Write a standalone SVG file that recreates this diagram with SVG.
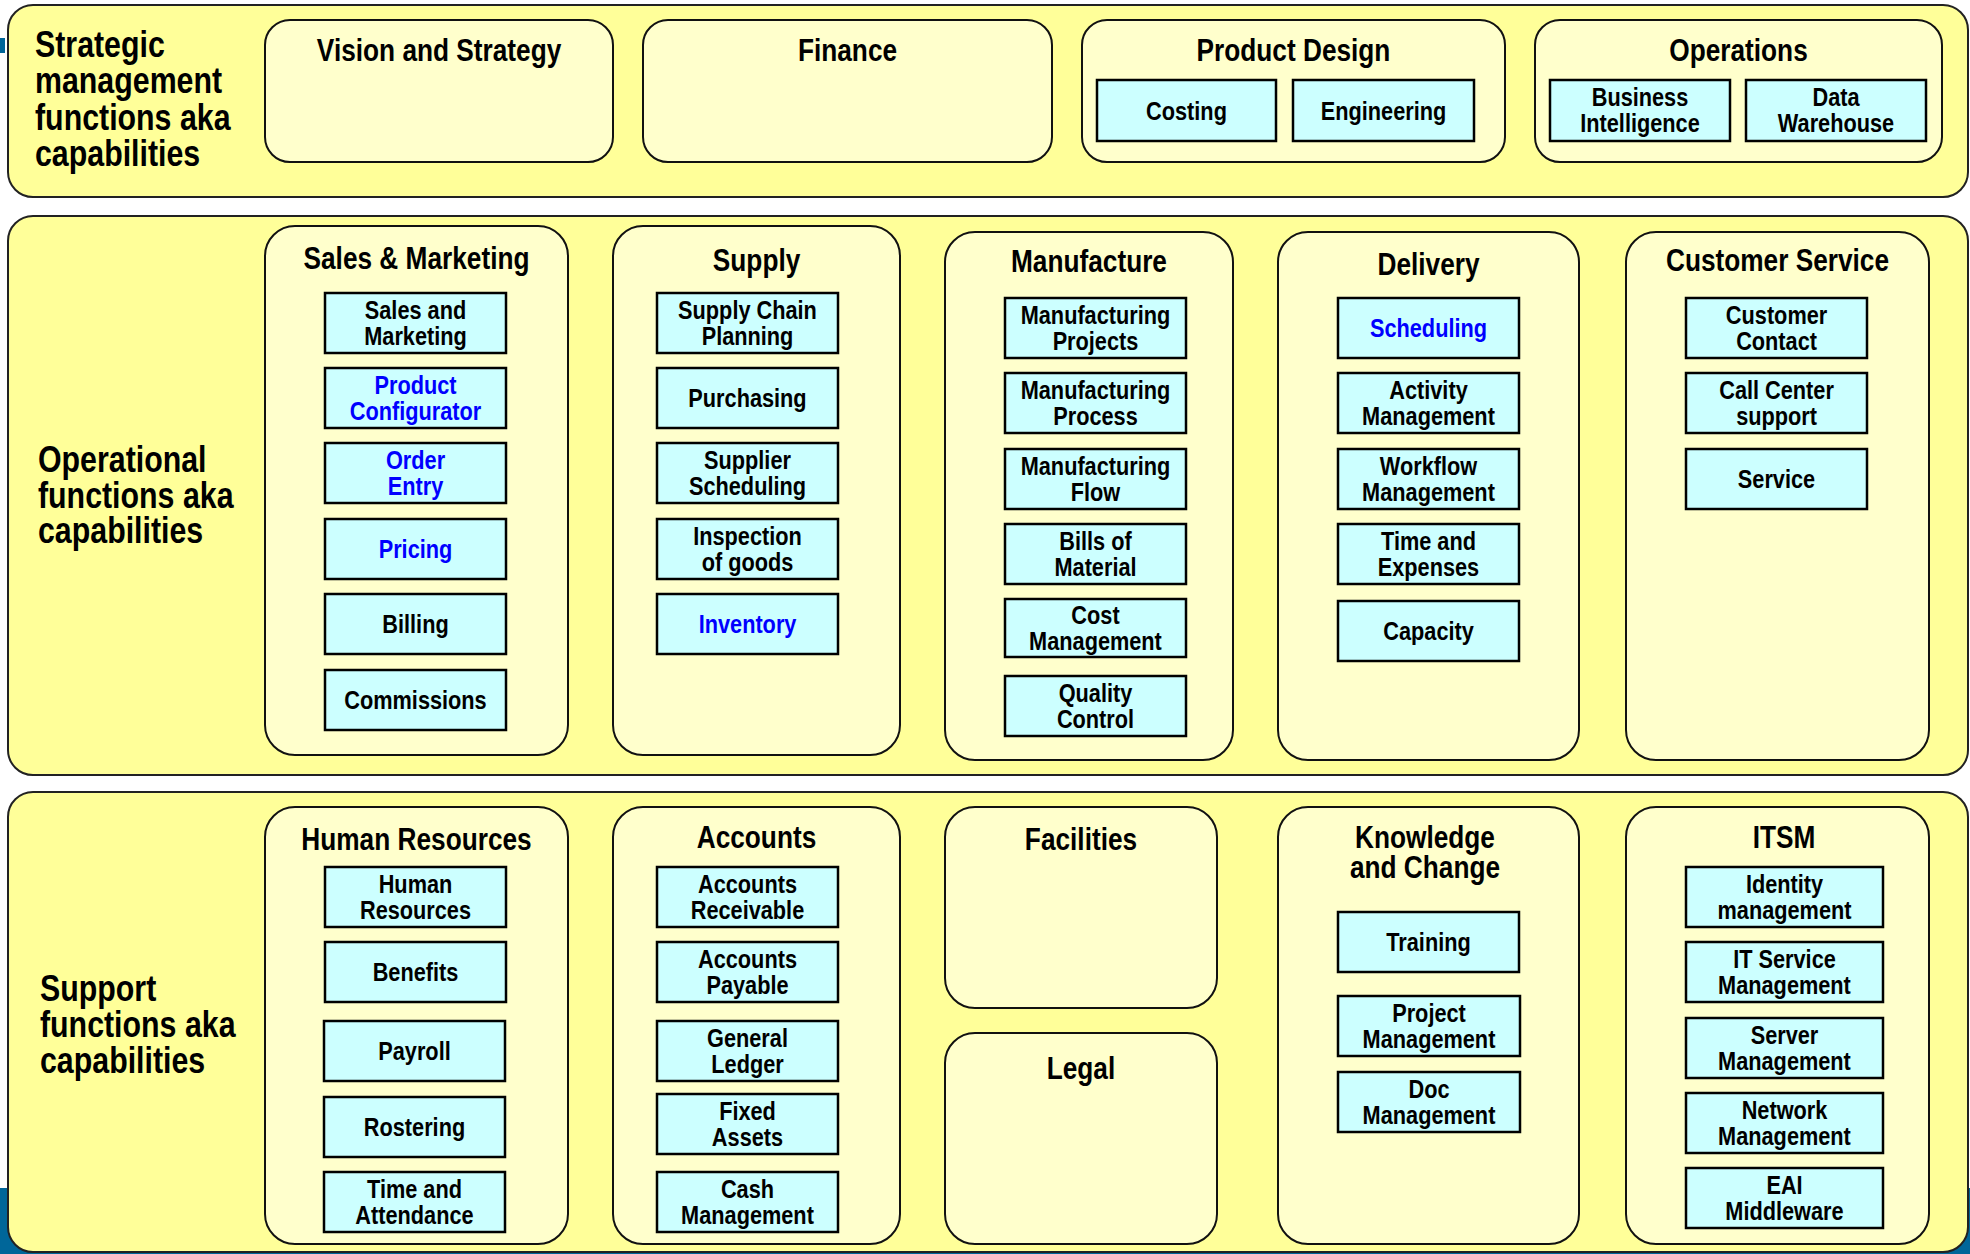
<svg xmlns="http://www.w3.org/2000/svg" width="1970" height="1254" viewBox="0 0 1970 1254">
<style>
.band{fill:#FFFF99;stroke:#222;stroke-width:2}
.grp{fill:#FFFFCC;stroke:#111;stroke-width:2}
.cap{fill:#CCFFFF;stroke:#000;stroke-width:2.5}
text{font-family:"Liberation Sans Narrow","Arial Narrow","Liberation Sans",sans-serif;font-weight:bold;fill:#000;text-anchor:middle;transform-box:fill-box;transform-origin:50% 50%;transform:scaleX(0.82)}
.big{font-size:37px;text-anchor:start;transform-origin:0 50%}
.ttl{font-size:32px}
.lbl{font-size:26.5px}
.blue{fill:#0000FF}
.deco{fill:#006699}
</style>
<rect width="1970" height="1254" fill="#FFFFFF"/>
<rect class="deco" x="0" y="38" width="5" height="15"/>
<rect class="deco" x="0" y="1188" width="1970" height="66"/>

<g id="band-strategic">
<rect class="band" x="8" y="5" width="1960" height="192" rx="25"/>
<text class="big" x="35"><tspan x="35" y="57">Strategic</tspan><tspan x="35" y="93.5">management</tspan><tspan x="35" y="130">functions aka</tspan><tspan x="35" y="166.5">capabilities</tspan></text>
</g>
<g id="band-operational">
<rect class="band" x="8" y="216" width="1960" height="559" rx="25"/>
<text class="big" x="38"><tspan x="38" y="472">Operational</tspan><tspan x="38" y="508">functions aka</tspan><tspan x="38" y="543">capabilities</tspan></text>
</g>
<g id="band-support">
<rect class="band" x="8" y="792" width="1960" height="460" rx="25"/>
<text class="big" x="40"><tspan x="40" y="1001">Support</tspan><tspan x="40" y="1037">functions aka</tspan><tspan x="40" y="1073">capabilities</tspan></text>
</g>

<g id="vision">
<rect class="grp" x="265" y="20" width="348" height="142" rx="25"/>
<text class="ttl" x="439" y="61">Vision and Strategy</text>
</g>
<g id="finance">
<rect class="grp" x="643" y="20" width="409" height="142" rx="25"/>
<text class="ttl" x="847.5" y="61">Finance</text>
</g>
<g id="product-design">
<rect class="grp" x="1082" y="20" width="423" height="142" rx="25"/>
<text class="ttl" x="1293.5" y="61">Product Design</text>
<g id="costing"><rect class="cap" x="1097" y="80" width="179" height="61"/><text class="lbl" x="1186.5" y="120">Costing</text></g>
<g id="engineering"><rect class="cap" x="1293" y="80" width="181" height="61"/><text class="lbl" x="1383.5" y="120">Engineering</text></g>
</g>
<g id="operations">
<rect class="grp" x="1535" y="20" width="407" height="142" rx="25"/>
<text class="ttl" x="1738.5" y="61">Operations</text>
<g id="bi"><rect class="cap" x="1550" y="80" width="180" height="61"/><text class="lbl"><tspan x="1640" y="106">Business</tspan><tspan x="1640" y="132">Intelligence</tspan></text></g>
<g id="dw"><rect class="cap" x="1746" y="80" width="180" height="61"/><text class="lbl"><tspan x="1836" y="106">Data</tspan><tspan x="1836" y="132">Warehouse</tspan></text></g>
</g>

<g id="sales-marketing">
<rect class="grp" x="265" y="226" width="303" height="529" rx="30"/>
<text class="ttl" x="416.5" y="269">Sales &amp; Marketing</text>
<g id="sm-1"><rect class="cap" x="325" y="293" width="181" height="60"/><text class="lbl"><tspan x="415.5" y="319">Sales and</tspan><tspan x="415.5" y="345">Marketing</tspan></text></g>
<g id="sm-2"><rect class="cap" x="325" y="368" width="181" height="60"/><text class="lbl blue"><tspan x="415.5" y="394">Product</tspan><tspan x="415.5" y="420">Configurator</tspan></text></g>
<g id="sm-3"><rect class="cap" x="325" y="443" width="181" height="60"/><text class="lbl blue"><tspan x="415.5" y="469">Order</tspan><tspan x="415.5" y="495">Entry</tspan></text></g>
<g id="sm-4"><rect class="cap" x="325" y="519" width="181" height="60"/><text class="lbl blue" x="415.5" y="558">Pricing</text></g>
<g id="sm-5"><rect class="cap" x="325" y="594" width="181" height="60"/><text class="lbl" x="415.5" y="633">Billing</text></g>
<g id="sm-6"><rect class="cap" x="325" y="670" width="181" height="60"/><text class="lbl" x="415.5" y="709">Commissions</text></g>
</g>

<g id="supply">
<rect class="grp" x="613" y="226" width="287" height="529" rx="30"/>
<text class="ttl" x="756.5" y="271">Supply</text>
<g id="su-1"><rect class="cap" x="657" y="293" width="181" height="60"/><text class="lbl"><tspan x="747.5" y="319">Supply Chain</tspan><tspan x="747.5" y="345">Planning</tspan></text></g>
<g id="su-2"><rect class="cap" x="657" y="368" width="181" height="60"/><text class="lbl" x="747.5" y="407">Purchasing</text></g>
<g id="su-3"><rect class="cap" x="657" y="443" width="181" height="60"/><text class="lbl"><tspan x="747.5" y="469">Supplier</tspan><tspan x="747.5" y="495">Scheduling</tspan></text></g>
<g id="su-4"><rect class="cap" x="657" y="519" width="181" height="60"/><text class="lbl"><tspan x="747.5" y="545">Inspection</tspan><tspan x="747.5" y="571">of goods</tspan></text></g>
<g id="su-5"><rect class="cap" x="657" y="594" width="181" height="60"/><text class="lbl blue" x="747.5" y="633">Inventory</text></g>
</g>

<g id="manufacture">
<rect class="grp" x="945" y="232" width="288" height="528" rx="30"/>
<text class="ttl" x="1089" y="272">Manufacture</text>
<g id="mf-1"><rect class="cap" x="1005" y="298" width="181" height="60"/><text class="lbl"><tspan x="1095.5" y="324">Manufacturing</tspan><tspan x="1095.5" y="350">Projects</tspan></text></g>
<g id="mf-2"><rect class="cap" x="1005" y="373" width="181" height="60"/><text class="lbl"><tspan x="1095.5" y="399">Manufacturing</tspan><tspan x="1095.5" y="425">Process</tspan></text></g>
<g id="mf-3"><rect class="cap" x="1005" y="449" width="181" height="60"/><text class="lbl"><tspan x="1095.5" y="475">Manufacturing</tspan><tspan x="1095.5" y="501">Flow</tspan></text></g>
<g id="mf-4"><rect class="cap" x="1005" y="524" width="181" height="60"/><text class="lbl"><tspan x="1095.5" y="550">Bills of</tspan><tspan x="1095.5" y="576">Material</tspan></text></g>
<g id="mf-5"><rect class="cap" x="1005" y="599" width="181" height="58"/><text class="lbl"><tspan x="1095.5" y="624">Cost</tspan><tspan x="1095.5" y="650">Management</tspan></text></g>
<g id="mf-6"><rect class="cap" x="1005" y="676" width="181" height="60"/><text class="lbl"><tspan x="1095.5" y="702">Quality</tspan><tspan x="1095.5" y="728">Control</tspan></text></g>
</g>

<g id="delivery">
<rect class="grp" x="1278" y="232" width="301" height="528" rx="30"/>
<text class="ttl" x="1428.5" y="275">Delivery</text>
<g id="dl-1"><rect class="cap" x="1338" y="298" width="181" height="60"/><text class="lbl blue" x="1428.5" y="337">Scheduling</text></g>
<g id="dl-2"><rect class="cap" x="1338" y="373" width="181" height="60"/><text class="lbl"><tspan x="1428.5" y="399">Activity</tspan><tspan x="1428.5" y="425">Management</tspan></text></g>
<g id="dl-3"><rect class="cap" x="1338" y="449" width="181" height="60"/><text class="lbl"><tspan x="1428.5" y="475">Workflow</tspan><tspan x="1428.5" y="501">Management</tspan></text></g>
<g id="dl-4"><rect class="cap" x="1338" y="524" width="181" height="60"/><text class="lbl"><tspan x="1428.5" y="550">Time and</tspan><tspan x="1428.5" y="576">Expenses</tspan></text></g>
<g id="dl-5"><rect class="cap" x="1338" y="601" width="181" height="60"/><text class="lbl" x="1428.5" y="640">Capacity</text></g>
</g>

<g id="customer-service">
<rect class="grp" x="1626" y="232" width="303" height="528" rx="30"/>
<text class="ttl" x="1777.5" y="271">Customer Service</text>
<g id="cs-1"><rect class="cap" x="1686" y="298" width="181" height="60"/><text class="lbl"><tspan x="1776.5" y="324">Customer</tspan><tspan x="1776.5" y="350">Contact</tspan></text></g>
<g id="cs-2"><rect class="cap" x="1686" y="373" width="181" height="60"/><text class="lbl"><tspan x="1776.5" y="399">Call Center</tspan><tspan x="1776.5" y="425">support</tspan></text></g>
<g id="cs-3"><rect class="cap" x="1686" y="449" width="181" height="60"/><text class="lbl" x="1776.5" y="488">Service</text></g>
</g>

<g id="human-resources">
<rect class="grp" x="265" y="807" width="303" height="437" rx="30"/>
<text class="ttl" x="416.5" y="850">Human Resources</text>
<g id="hr-1"><rect class="cap" x="325" y="867" width="181" height="60"/><text class="lbl"><tspan x="415.5" y="893">Human</tspan><tspan x="415.5" y="919">Resources</tspan></text></g>
<g id="hr-2"><rect class="cap" x="325" y="942" width="181" height="60"/><text class="lbl" x="415.5" y="981">Benefits</text></g>
<g id="hr-3"><rect class="cap" x="324" y="1021" width="181" height="60"/><text class="lbl" x="414.5" y="1060">Payroll</text></g>
<g id="hr-4"><rect class="cap" x="324" y="1097" width="181" height="60"/><text class="lbl" x="414.5" y="1136">Rostering</text></g>
<g id="hr-5"><rect class="cap" x="324" y="1172" width="181" height="60"/><text class="lbl"><tspan x="414.5" y="1198">Time and</tspan><tspan x="414.5" y="1224">Attendance</tspan></text></g>
</g>

<g id="accounts">
<rect class="grp" x="613" y="807" width="287" height="437" rx="30"/>
<text class="ttl" x="756.5" y="848">Accounts</text>
<g id="ac-1"><rect class="cap" x="657" y="867" width="181" height="60"/><text class="lbl"><tspan x="747.5" y="893">Accounts</tspan><tspan x="747.5" y="919">Receivable</tspan></text></g>
<g id="ac-2"><rect class="cap" x="657" y="942" width="181" height="60"/><text class="lbl"><tspan x="747.5" y="968">Accounts</tspan><tspan x="747.5" y="994">Payable</tspan></text></g>
<g id="ac-3"><rect class="cap" x="657" y="1021" width="181" height="60"/><text class="lbl"><tspan x="747.5" y="1047">General</tspan><tspan x="747.5" y="1073">Ledger</tspan></text></g>
<g id="ac-4"><rect class="cap" x="657" y="1094" width="181" height="60"/><text class="lbl"><tspan x="747.5" y="1120">Fixed</tspan><tspan x="747.5" y="1146">Assets</tspan></text></g>
<g id="ac-5"><rect class="cap" x="657" y="1172" width="181" height="60"/><text class="lbl"><tspan x="747.5" y="1198">Cash</tspan><tspan x="747.5" y="1224">Management</tspan></text></g>
</g>

<g id="facilities">
<rect class="grp" x="945" y="807" width="272" height="201" rx="30"/>
<text class="ttl" x="1081" y="850">Facilities</text>
</g>
<g id="legal">
<rect class="grp" x="945" y="1033" width="272" height="211" rx="30"/>
<text class="ttl" x="1081" y="1079">Legal</text>
</g>

<g id="knowledge-change">
<rect class="grp" x="1278" y="807" width="301" height="437" rx="30"/>
<text class="ttl"><tspan x="1425" y="848">Knowledge</tspan><tspan x="1425" y="878">and Change</tspan></text>
<g id="kc-1"><rect class="cap" x="1338" y="912" width="181" height="60"/><text class="lbl" x="1428.5" y="951">Training</text></g>
<g id="kc-2"><rect class="cap" x="1338" y="996" width="182" height="60"/><text class="lbl"><tspan x="1429" y="1022">Project</tspan><tspan x="1429" y="1048">Management</tspan></text></g>
<g id="kc-3"><rect class="cap" x="1338" y="1072" width="182" height="60"/><text class="lbl"><tspan x="1429" y="1098">Doc</tspan><tspan x="1429" y="1124">Management</tspan></text></g>
</g>

<g id="itsm">
<rect class="grp" x="1626" y="807" width="303" height="437" rx="30"/>
<text class="ttl" x="1784" y="848">ITSM</text>
<g id="it-1"><rect class="cap" x="1686" y="867" width="197" height="60"/><text class="lbl"><tspan x="1784.5" y="893">Identity</tspan><tspan x="1784.5" y="919">management</tspan></text></g>
<g id="it-2"><rect class="cap" x="1686" y="942" width="197" height="60"/><text class="lbl"><tspan x="1784.5" y="968">IT Service</tspan><tspan x="1784.5" y="994">Management</tspan></text></g>
<g id="it-3"><rect class="cap" x="1686" y="1018" width="197" height="60"/><text class="lbl"><tspan x="1784.5" y="1044">Server</tspan><tspan x="1784.5" y="1070">Management</tspan></text></g>
<g id="it-4"><rect class="cap" x="1686" y="1093" width="197" height="60"/><text class="lbl"><tspan x="1784.5" y="1119">Network</tspan><tspan x="1784.5" y="1145">Management</tspan></text></g>
<g id="it-5"><rect class="cap" x="1686" y="1168" width="197" height="60"/><text class="lbl"><tspan x="1784.5" y="1194">EAI</tspan><tspan x="1784.5" y="1220">Middleware</tspan></text></g>
</g>
<g id="connectors"></g>
</svg>
